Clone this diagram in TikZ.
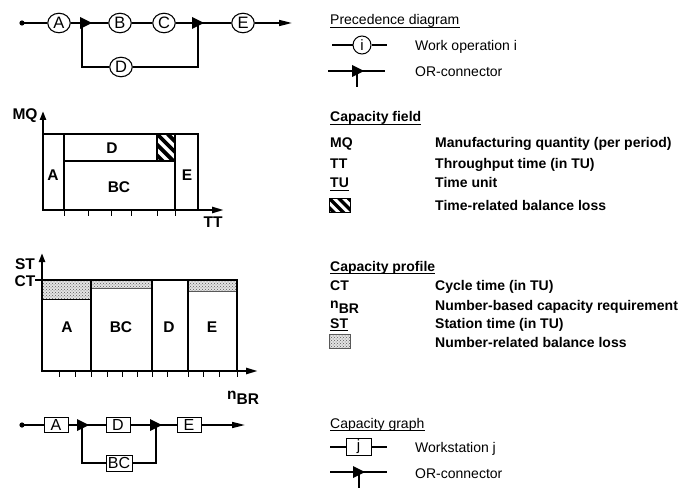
\documentclass[tikz,border=0pt]{standalone}
\usepackage{fontspec}
\setmainfont{Liberation Sans}
\usetikzlibrary{arrows.meta,shapes.geometric,patterns}
\begin{document}
\begin{tikzpicture}[x=1pt,y=-1pt,
  lbl/.style={inner sep=0pt, font=\fontsize{14}{16}\selectfont},
  blbl/.style={inner sep=0pt, font=\fontsize{14}{16}\selectfont\bfseries},
  clbl/.style={inner sep=0pt, font=\fontsize{15.5}{17}\selectfont\bfseries},
  op/.style={draw, ellipse, line width=1.1pt, minimum width=22.5pt, minimum height=19.5pt, inner sep=0pt, font=\fontsize{16.5}{18}\selectfont, fill=white},
  ws/.style={draw, rectangle, line width=0.8pt, minimum width=24pt, minimum height=15pt, inner sep=0pt, font=\fontsize{16}{18}\selectfont, fill=white},
  flow/.style={line width=1.6pt},
  thinflow/.style={line width=1.1pt},
  axis/.style={line width=2.4pt},
  frame/.style={line width=1.2pt},
  tick/.style={line width=1pt},
  tip/.style={-{Triangle[length=13pt,width=6pt]}},
  axtips/.style={{Triangle[length=9pt,width=6pt]}-{Triangle[length=12pt,width=6pt]}},
  orc/.pic={\fill (0,-6) -- (12,0) -- (0,6) -- cycle;},
  uline/.style={line width=0.9pt},
  dotfill/.style={fill=gray!22},
  dotpat/.style={pattern=crosshatch dots, pattern color=black!65},
]
\useasboundingbox (0,0) rectangle (682,489);

% ---------------- Precedence diagram ----------------
\coordinate (ps) at (22,23);
\node[op] (pA) at (59,23) {A};
\coordinate (por1) at (80,23);
\coordinate (por1v) at (82,23);
\node[op] (pB) at (120,23) {B};
\node[op] (pC) at (164,23) {C};
\coordinate (por2) at (192,23);
\coordinate (por2v) at (198,23);
\node[op] (pE) at (243,23) {E};
\coordinate (pend) at (292,23);
\node[op] (pD) at (121,67) {D};
\draw[flow] (ps) -- (pA) -- (pB) -- (pC) -- (pE);
\draw[flow,tip] (pE) -- (pend);
\draw[thinflow] (por1v) |- (pD.west);
\draw[thinflow] (pD.east) -| (por2v);
\fill (ps) circle (2.6);
\pic at (por1) {orc};
\pic at (por2) {orc};

% ---------------- Capacity field ----------------
\begin{scope}
\clip (157,134) rectangle (175,161);
\foreach \k in {-4,...,2} \draw[line width=3.8pt] ({157+\k*10.6},134) -- ++(32,32);
\end{scope}
\draw[frame] (43,134) -- (198,134) -- (198,210);
\draw[frame] (64,134) -- (64,210);
\draw[frame] (175,134) -- (175,210);
\draw[frame] (64,161) -- (175,161);
\draw[frame] (157,134) -- (157,161);
\draw[axis,axtips] (43,111) -- (43,210) -- (224,210);
\foreach \x in {64,88,111,131,157,175} \draw[tick] (\x,210) -- (\x,216);
\node[clbl] (fMQ) at (25,116) {MQ};
\node[clbl] (fTT) at (213,222) {TT};
\node[clbl] (fA) at (53,175) {A};
\node[clbl] (fE) at (187,175) {E};
\node[clbl] (fD) at (112,148) {D};
\node[clbl] (fBC) at (119,187) {BC};

% ---------------- Capacity profile ----------------
\path[dotfill] (42,280) rectangle (91,299);
\path[dotpat] (42,280) rectangle (91,299);
\path[dotfill] (91,280) rectangle (152,288);
\path[dotpat] (91,280) rectangle (152,288);
\path[dotfill] (188,280) rectangle (237,291);
\path[dotpat] (188,280) rectangle (237,291);
\draw[line width=0.8pt] (42,299) -- (91,299);
\draw[line width=0.7pt, gray!70!black] (91,288) -- (152,288);
\draw[line width=0.7pt, gray!70!black] (188,291) -- (237,291);
\draw[frame] (35,280) -- (237,280) -- (237,371);
\draw[frame] (91,280) -- (91,371);
\draw[frame] (152,280) -- (152,371);
\draw[frame] (188,280) -- (188,371);
\draw[axis,axtips] (42,253) -- (42,371) -- (258,371);
\foreach \x in {59,75,91,107,122,137,152,167,188,203,219,237} \draw[tick] (\x,371) -- (\x,377);
\node[clbl] (sST) at (25,264) {ST};
\node[clbl] (sCT) at (25,281) {CT};
\node[clbl] (sA) at (67,327) {A};
\node[clbl] (sBC) at (121,327) {BC};
\node[clbl] (sD) at (169,327) {D};
\node[clbl] (sE) at (212,327) {E};
\node[clbl, anchor=base west] (snBR) at (227,399) {n\raisebox{-5pt}{BR}};

% ---------------- Capacity graph ----------------
\coordinate (gs) at (22,425);
\node[ws] (gA) at (56,425) {A};
\coordinate (gor1) at (77,425);
\coordinate (gor1v) at (82,425);
\node[ws] (gD) at (118,425) {D};
\coordinate (gor2) at (150,425);
\coordinate (gor2v) at (156,425);
\node[ws] (gE) at (189,425) {E};
\coordinate (gend) at (245,425);
\node[ws, minimum width=26pt, minimum height=16pt] (gBC) at (119,463) {BC};
\draw[flow] (gs) -- (gA) -- (gD) -- (gE);
\draw[flow,tip] (gE) -- (gend);
\draw[thinflow] (gor1v) |- (gBC.west);
\draw[thinflow] (gBC.east) -| (gor2v);
\fill (gs) circle (2.6);
\pic at (gor1) {orc};
\pic at (gor2) {orc};

% ---------------- Legend: precedence ----------------
\node[lbl, anchor=base west] (lt1) at (330,25) {Precedence diagram};
\draw[uline] ([yshift=-2pt]lt1.base west) -- ([yshift=-2pt]lt1.base east);
\coordinate (lil) at (332,45);
\node[draw, circle, line width=1pt, minimum size=18pt, inner sep=0pt, font=\fontsize{15}{17}\selectfont] (li) at (362,45) {i};
\coordinate (lir) at (387,45);
\draw[thinflow] (lil) -- (li) -- (lir);
\node[lbl, anchor=base west] (lwo) at (415,51) {Work operation i};
\coordinate (lo1l) at (328,71);
\coordinate (lo1r) at (385,71);
\coordinate (lo1t) at (352,71);
\coordinate (lo1v) at (357,71);
\coordinate (lo1b) at (357,87);
\draw[flow] (lo1l) -- (lo1r);
\draw[flow] (lo1v) -- (lo1b);
\pic at (lo1t) {orc};
\node[lbl, anchor=base west] (lor1) at (415,77) {OR-connector};

% ---------------- Legend: capacity field ----------------
\node[blbl, anchor=base west] (lt2) at (330,122) {Capacity field};
\draw[uline] ([yshift=-2pt]lt2.base west) -- ([yshift=-2pt]lt2.base east);
\node[blbl, anchor=base west] (lMQ) at (330,148) {MQ};
\node[blbl, anchor=base west] (lMQd) at (435,148) {Manufacturing quantity (per period)};
\node[blbl, anchor=base west] (lTT) at (330,168) {TT};
\node[blbl, anchor=base west] (lTTd) at (435,168) {Throughput time (in TU)};
\node[blbl, anchor=base west] (lTU) at (330,188) {TU};
\draw[uline] ([yshift=-2pt]lTU.base west) -- ([yshift=-2pt]lTU.base east);
\node[blbl, anchor=base west] (lTUd) at (435,188) {Time unit};
\begin{scope}
\clip (329,198) rectangle (350,212);
\foreach \k in {-3,...,2} \draw[line width=3.4pt] ({329+\k*9.5},198) -- ++(20,20);
\end{scope}
\draw[line width=0.9pt] (329,198) rectangle (350,212);
\node[blbl, anchor=base west] (lHd) at (435,211) {Time-related balance loss};

% ---------------- Legend: capacity profile ----------------
\node[blbl, anchor=base west] (lt3) at (330,271) {Capacity profile};
\draw[uline] ([yshift=-2pt]lt3.base west) -- ([yshift=-2pt]lt3.base east);
\node[blbl, anchor=base west] (lCT) at (330,290) {CT};
\node[blbl, anchor=base west] (lCTd) at (435,290) {Cycle time (in TU)};
\node[blbl, anchor=base west] (lnBR) at (330,308) {n\raisebox{-5pt}{BR}};
\node[blbl, anchor=base west] (lnBRd) at (435,310) {Number-based capacity requirement};
\node[blbl, anchor=base west] (lST) at (330,328) {ST};
\draw[uline] ([yshift=-2pt]lST.base west) -- ([yshift=-2pt]lST.base east);
\node[blbl, anchor=base west] (lSTd) at (435,328) {Station time (in TU)};
\path[dotfill] (329,334) rectangle (350,348);
\path[dotpat] (329,334) rectangle (350,348);
\draw[line width=0.6pt, gray!70!black] (329,334) rectangle (350,348);
\node[blbl, anchor=base west] (lDd) at (435,347) {Number-related balance loss};

% ---------------- Legend: capacity graph ----------------
\node[lbl, anchor=base west] (lt4) at (330,428) {Capacity graph};
\draw[uline] ([yshift=-2pt]lt4.base west) -- ([yshift=-2pt]lt4.base east);
\coordinate (ljl) at (330,447);
\node[draw, rectangle, line width=0.8pt, minimum width=25pt, minimum height=17pt, inner sep=0pt, font=\fontsize{15}{17}\selectfont] (lj) at (358.5,447) {j};
\coordinate (ljr) at (387,447);
\draw[thinflow] (ljl) -- (lj) -- (ljr);
\node[lbl, anchor=base west] (lws) at (415,452) {Workstation j};
\coordinate (lo2l) at (330,472);
\coordinate (lo2r) at (387,472);
\coordinate (lo2t) at (353,472);
\coordinate (lo2v) at (359,472);
\coordinate (lo2b) at (359,488);
\draw[flow] (lo2l) -- (lo2r);
\draw[flow] (lo2v) -- (lo2b);
\pic at (lo2t) {orc};
\node[lbl, anchor=base west] (lor2) at (415,478) {OR-connector};
\end{tikzpicture}
\end{document}
